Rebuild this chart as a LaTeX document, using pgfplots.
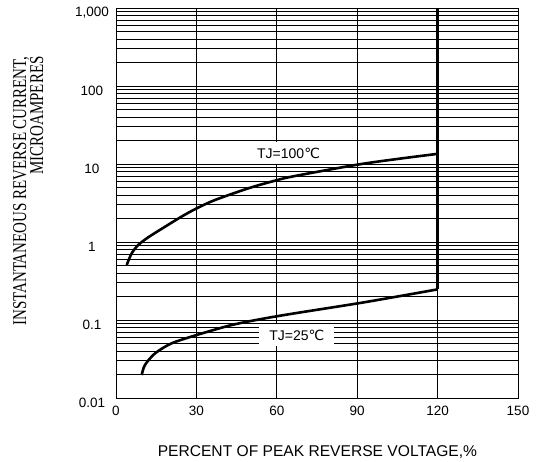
\documentclass[border=0pt]{standalone}
\usepackage{pgfplots}
\pgfplotsset{compat=1.18}
\usepackage{fontspec}
\usepackage{graphicx}
\setmainfont{Liberation Sans}
\newfontfamily\serifyl{Liberation Serif}
\newfontfamily\dejavu{DejaVu Sans}

\begin{document}
\begin{tikzpicture}
\begin{axis}[
  at={(0,0)}, anchor=south west,
  scale only axis, width=402bp, height=390bp,
  xmin=0, xmax=150, ymode=log, ymin=0.01, ymax=1000,
  xtick={0,30,60,90,120,150},
  ytick={0.01,0.1,1,10,100,1000},
  yticklabels={0.01,0.1,1,10,100,{1,000}},
  minor ytick={0.02,0.03,0.04,0.05,0.06,0.07,0.08,0.09,
               0.2,0.3,0.4,0.5,0.6,0.7,0.8,0.9,
               2,3,4,5,6,7,8,9,
               20,30,40,50,60,70,80,90,
               200,300,400,500,600,700,800,900},
  grid=both,
  major grid style={black, line width=0.8bp},
  minor grid style={black, line width=0.8bp},
  axis line style={black, line width=0.9bp},
  major tick length=0pt, minor tick length=0pt,
  /pgf/number format/assume math mode=true,
  ticklabel style={font=\fontsize{13.5bp}{15bp}\selectfont},
  xticklabel style={anchor=north, yshift=-4.5bp},
  yticklabel style={anchor=center, xshift=-24bp, yshift=-5bp},
  xlabel={PERCENT OF PEAK REVERSE VOLTAGE,\%},
  xlabel style={at={(axis description cs:0.501,0)}, anchor=base, yshift=-58.7bp,
    font=\fontsize{15.6bp}{17bp}\selectfont},
  ylabel={\scalebox{1}[1.3]{\begin{tabular}[b]{@{}r@{}}INSTANTANEOUS REVERSE CURRENT,\\MICROAMPERES\end{tabular}}},
  ylabel style={at={(axis description cs:-0.181,0.885)}, anchor=base east,
    font=\serifyl\fontsize{15bp}{11bp}\selectfont},
]
\node[fill=white, inner xsep=10bp, inner ysep=6bp, font=\fontsize{14bp}{16bp}\selectfont]
  at (axis cs:64.4,13.8) {TJ=100{\dejavu ℃}};
\node[fill=white, inner xsep=10bp, inner ysep=6bp, font=\fontsize{14bp}{16bp}\selectfont]
  at (axis cs:67.5,0.0644) {TJ=25{\dejavu ℃}};

% TJ = 100 C
\addplot[black, line width=2.6bp, smooth] coordinates {
  (4.0,0.507) (5.86,0.716) (8.32,0.916) (12.05,1.15) (18.3,1.57)
  (24.5,2.12) (30.1,2.70) (36.9,3.45) (49.4,4.88) (59.3,6.11)
  (66.8,7.02) (90,9.8) (105,11.6) (120,13.5)
};
% TJ = 25 C
\addplot[black, line width=2.6bp, smooth] coordinates {
  (9.6,0.0197) (10.8,0.0265) (14.6,0.0374) (20.8,0.0503) (30.1,0.0642)
  (43.2,0.0863) (55.6,0.105) (66.8,0.122) (90,0.163) (105,0.2) (120,0.247)
};
% vertical line at 120
\addplot[black, line width=2.8bp] coordinates {(120,0.247) (120,1000)};
\end{axis}
\pgfresetboundingbox
\path (-116bp,-64bp) rectangle (420bp,398bp);
\end{tikzpicture}
\end{document}
